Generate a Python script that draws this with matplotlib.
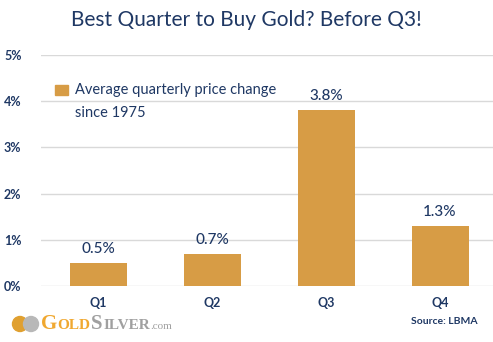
import matplotlib
matplotlib.use("Agg")
import matplotlib.pyplot as plt
from matplotlib.patches import Rectangle, Ellipse

categories = ["Q1", "Q2", "Q3", "Q4"]
values = [0.5, 0.7, 3.8, 1.3]
value_labels = ["0.5%", "0.7%", "3.8%", "1.3%"]
yticks = [0, 1, 2, 3, 4, 5]
ytick_labels = ["0%", "1%", "2%", "3%", "4%", "5%"]

plt.rcParams['font.family'] = ['Lato', 'DejaVu Sans']
navy = "#1F3864"
gold = "#D79C45"

W, H = 493, 342
fig = plt.figure(figsize=(W/100, H/100), dpi=100)
ax = fig.add_axes([41/W, 1-286/H, (497-41)/W, (286-55)/H])
x = list(range(len(categories)))
ax.bar(x, values, width=0.5, color=gold, zorder=3)
ax.set_xlim(-0.5, 3.5)
ax.set_ylim(0, 5)
ax.set_yticks(yticks)
ax.set_yticklabels(ytick_labels, color=navy, fontsize=9, fontweight='bold')
ax.set_xticks(x)
ax.set_xticklabels(categories, color=navy, fontsize=9, fontweight='bold')
ax.tick_params(length=0, pad=8)
ax.tick_params(axis='y', pad=14)
ax.grid(axis='y', color="#D9D9D9", linewidth=1, zorder=0)
for s in ax.spines.values():
    s.set_visible(False)
for xi, v, lab in zip(x, values, value_labels):
    ax.annotate(lab, (xi, v), xytext=(0, 5), textcoords='offset points',
                ha='center', va='bottom', color=navy, fontsize=11, fontweight='medium')

fig.text(0.5, 1-20/H, "Best Quarter to Buy Gold? Before Q3!", ha='center', va='center',
         color=navy, fontsize=15)

# legend
fig.patches.append(Rectangle((55/W, 1-95/H), 13/W, 10/H, transform=fig.transFigure,
                             color=gold, figure=fig))
fig.text(75/W, 1-90/H, "Average quarterly price change", color=navy, fontsize=10.5,
         va='center', ha='left')
fig.text(75/W, 1-113/H, "since 1975", color=navy, fontsize=10.5, va='center', ha='left')

# source
fig.text(478/W, 1-322/H, "Source: LBMA", color=navy, fontsize=7.5, fontweight='bold',
         ha='right', va='center')

# logo
fig.patches.append(Ellipse((20/W, 1-324/H), 15/W, 15/H, transform=fig.transFigure,
                           color="#E0A030", figure=fig))
fig.patches.append(Ellipse((31/W, 1-324/H), 15/W, 15/H, transform=fig.transFigure,
                           color="#B8B8B8", figure=fig))
renderer = fig.canvas.get_renderer()
pieces = [("G", "#F0A830", 15, 'bold'), ("OLD", "#F0A830", 11, 'bold'),
          ("S", "#A0A0A0", 15, 'bold'), ("ILVER", "#A0A0A0", 11, 'bold'),
          (".com", "#A0A0A0", 8, 'normal')]
xpos = 41
for txt, col, fs, fw in pieces:
    t = fig.text(xpos/W, 1-329/H, txt, color=col, fontsize=fs, fontweight=fw,
                 family='Liberation Serif', va='baseline', ha='left')
    bb = t.get_window_extent(renderer)
    xpos += bb.width + 0.5

fig.savefig("out.png", dpi=100)
